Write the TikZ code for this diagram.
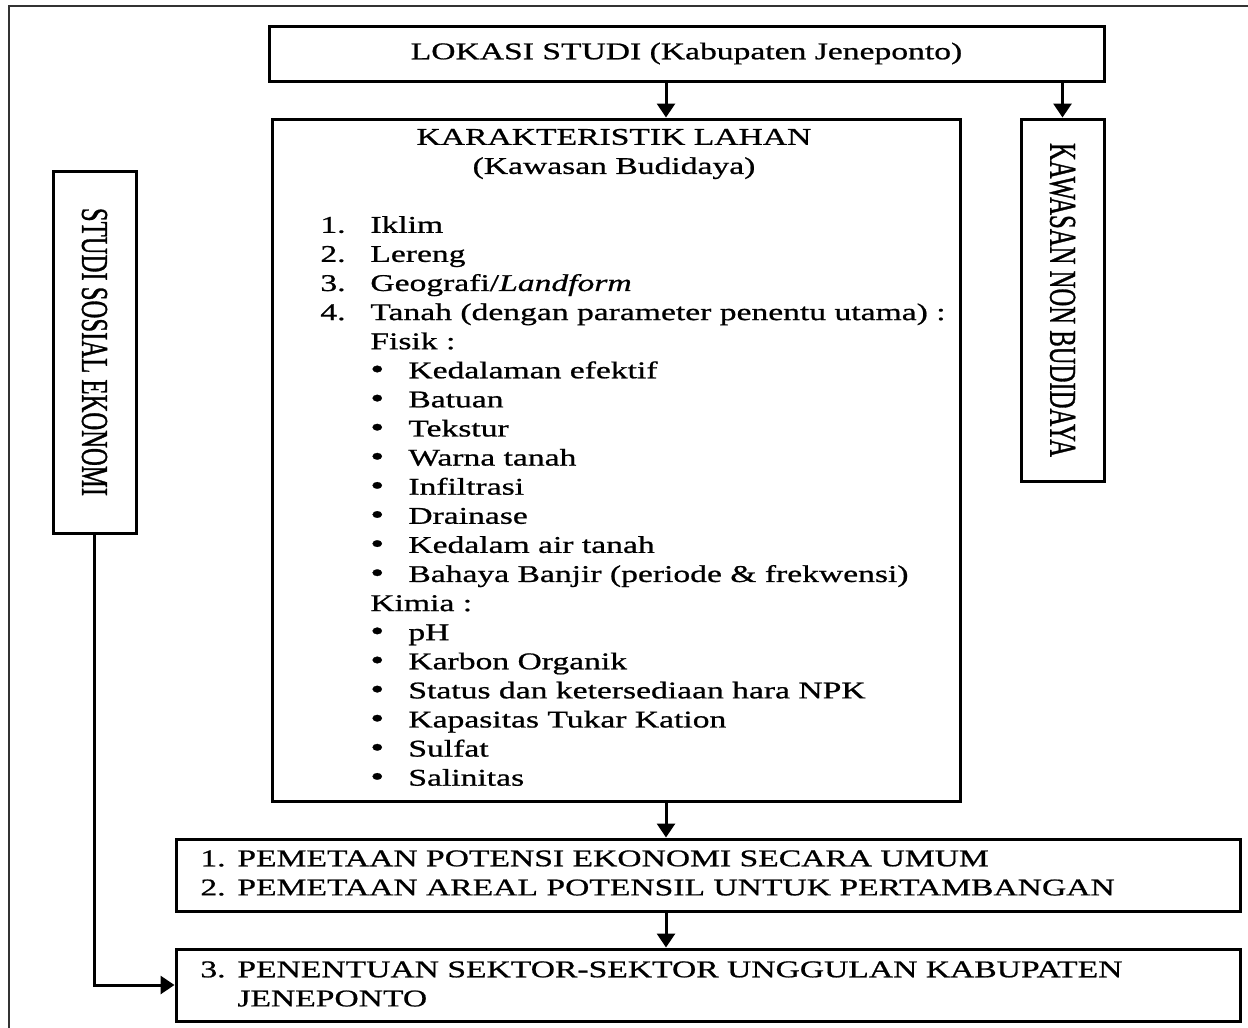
\documentclass[tikz,border=0pt]{standalone}
\usepackage{fontspec}
\setmainfont{Liberation Serif}
\usetikzlibrary{positioning, arrows.meta}

\newcommand{\bulletitem}{\makebox[19pt][l]{{\fontsize{14}{14}\selectfont\textbullet}}}

\begin{document}
\begin{tikzpicture}[
    x=0.5pt, y=-0.5pt, % one unit is one pixel of the layout
    every node/.style={inner sep=0pt},
    box/.style={draw, line width=1.5pt},
    flow/.style={-{Triangle[width=9pt,length=7pt]}, line width=1.5pt},
    spaced/.style={font=\fontsize{12}{14.55}\selectfont\addfontfeature{FakeStretch=1.4,FakeBold=0.8}},
    upright/.style={font=\fontsize{19}{21}\selectfont\addfontfeature{FakeStretch=0.65,FakeBold=0.8}, rotate=-90}
]
    \useasboundingbox (0,0) rectangle (1248,1028);
    % outer frame (only top and left edges are in view)
    \draw[line width=1pt, black!80] (9,1028) -- (9,6) -- (1248,6);

    % 1. Define the boxes at explicit coordinates
    \node[box, minimum width=417.5pt, minimum height=27.5pt] (lokasi) at (686.5,53.5) {};
    \node[box, minimum width=344pt, minimum height=341pt] (lahan) at (616,460) {};
    \node[box, minimum width=41.5pt, minimum height=181pt] (nonbud) at (1062.5,300) {};
    \node[box, minimum width=41.5pt, minimum height=181pt] (sosek) at (94.5,352) {};
    \node[box, minimum width=532pt, minimum height=36pt] (pemetaan) at (708,875) {};
    \node[box, minimum width=532pt, minimum height=36pt] (unggulan) at (708,985) {};

    % 2. Put the texts in
    \node[spaced] (lokasitxt) at (lokasi) {LOKASI STUDI (Kabupaten Jeneponto)};
    \node[spaced, align=center] (judul) at (614,154) {KARAKTERISTIK LAHAN\\(Kawasan Budidaya)};
    \node[spaced, anchor=north west] (kriteria) at (320,212) {%
        \begin{tabular}{@{}p{25pt}@{}l@{}}
        1. & Iklim\\
        2. & Lereng\\
        3. & Geografi/\textit{Landform}\\
        4. & Tanah (dengan parameter penentu utama) :\\
           & Fisik :\\
           & \bulletitem Kedalaman efektif\\
           & \bulletitem Batuan\\
           & \bulletitem Tekstur\\
           & \bulletitem Warna tanah\\
           & \bulletitem Infiltrasi\\
           & \bulletitem Drainase\\
           & \bulletitem Kedalam air tanah\\
           & \bulletitem Bahaya Banjir (periode \& frekwensi)\\
           & Kimia :\\
           & \bulletitem pH\\
           & \bulletitem Karbon Organik\\
           & \bulletitem Status dan ketersediaan hara NPK\\
           & \bulletitem Kapasitas Tukar Kation\\
           & \bulletitem Sulfat\\
           & \bulletitem Salinitas
        \end{tabular}};
    \node[upright] (nonbudtxt) at (nonbud) {KAWASAN NON BUDIDAYA};
    \node[upright] (sosektxt) at (sosek) {STUDI SOSIAL EKONOMI};
    \node[spaced, anchor=west] (pemetaantxt) at (200,875) {%
        \begin{tabular}{@{}p{18.5pt}@{}l@{}}
        1. & PEMETAAN POTENSI EKONOMI SECARA UMUM\\
        2. & PEMETAAN AREAL POTENSIL UNTUK PERTAMBANGAN
        \end{tabular}};
    \node[spaced, anchor=west] (unggulantxt) at (200,986) {%
        \begin{tabular}{@{}p{18.5pt}@{}l@{}}
        3. & PENENTUAN SEKTOR-SEKTOR UNGGULAN KABUPATEN\\
           & JENEPONTO
        \end{tabular}};

    % 3. Draw the arrows

    % lokasi -> lahan
    \draw[flow] (lokasi.south -| 666,0) -- (lahan.north -| 666,0);

    % lokasi -> nonbud
    \draw[flow] (lokasi.south -| nonbud.north) -- (nonbud.north);

    % lahan -> pemetaan
    \draw[flow] (lahan.south -| 666,0) -- (pemetaan.north -| 666,0);

    % pemetaan -> unggulan
    \draw[flow] (pemetaan.south -| 666,0) -- (unggulan.north -| 666,0);

    % sosek -> unggulan (down, then right)
    \draw[flow] (sosek.south) |- (unggulan.west);

\end{tikzpicture}
\end{document}
